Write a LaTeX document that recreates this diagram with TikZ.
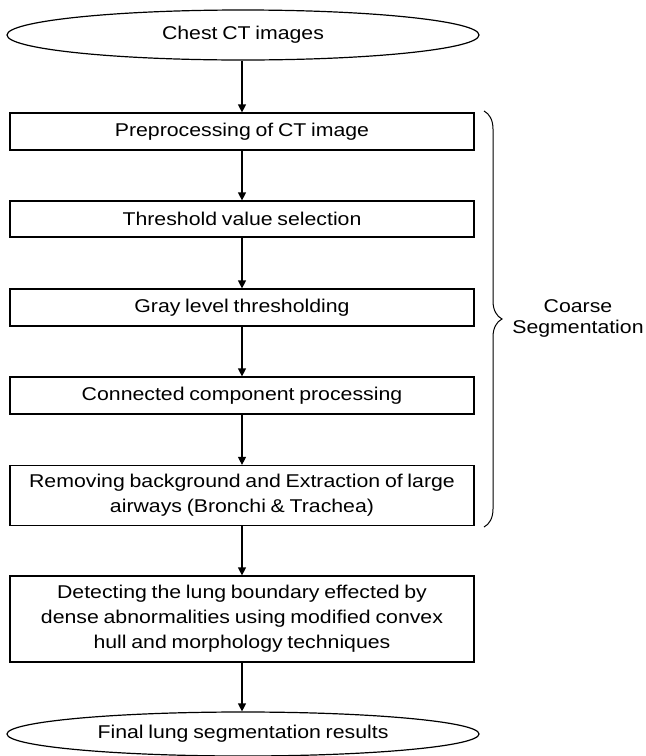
\documentclass[tikz,border=0pt]{standalone}
\usepackage{fontspec}
\setmainfont{Liberation Sans}[FakeStretch=1.15,WordSpace=0.8]
\usetikzlibrary{arrows.meta,shapes.geometric,decorations.pathreplacing}
\begin{document}
\begin{tikzpicture}[x=1pt,y=-1pt,
  every node/.style={font=\fontsize{18.5}{25}\selectfont},
  flowbox/.style={draw,line width=1.2pt,rectangle,minimum width=464pt,inner sep=0pt,align=center},
  term/.style={draw,line width=1.2pt,ellipse,minimum width=472pt,inner sep=0pt},
  conn/.style={line width=1.2pt,-{Triangle[length=8pt,width=8pt]}},
]
\useasboundingbox (0,0) rectangle (646,756);
\node[term,minimum height=50pt] (e1) at (243,35) {Chest CT images};
\node[flowbox,minimum height=37pt] (b1) at (242,131.5) {Preprocessing of CT image};
\node[flowbox,minimum height=36pt] (b2) at (242,219) {Threshold value selection};
\node[flowbox,minimum height=37pt] (b3) at (242,307.5) {Gray level thresholding};
\node[flowbox,minimum height=37pt] (b4) at (242,395.5) {Connected component processing};
\node[flowbox,minimum height=60pt] (b5) at (242,495.5) {Removing background and Extraction of large\\airways (Bronchi \& Trachea)};
\node[flowbox,minimum height=86pt] (b6) at (242,619) {Detecting the lung boundary effected by\\dense abnormalities using modified convex\\hull and morphology techniques};
\node[term,minimum height=44pt] (e2) at (243,734) {Final lung segmentation results};
\draw[conn] (e1.south -| b1.north) -- (b1.north);
\draw[conn] (b1) -- (b2);
\draw[conn] (b2) -- (b3);
\draw[conn] (b3) -- (b4);
\draw[conn] (b4) -- (b5);
\draw[conn] (b5) -- (b6);
\draw[conn] (b6.south) -- (b6.south |- e2.north);
\coordinate (bt) at (484,111);
\coordinate (bb) at (484,527);
\draw[line width=1pt,decorate,decoration={brace,amplitude=18pt}] (bt) -- (bb);
\node[align=center,font=\fontsize{18.5}{21}\selectfont] (lab) at (578,318) {Coarse\\Segmentation};
\end{tikzpicture}
\end{document}
